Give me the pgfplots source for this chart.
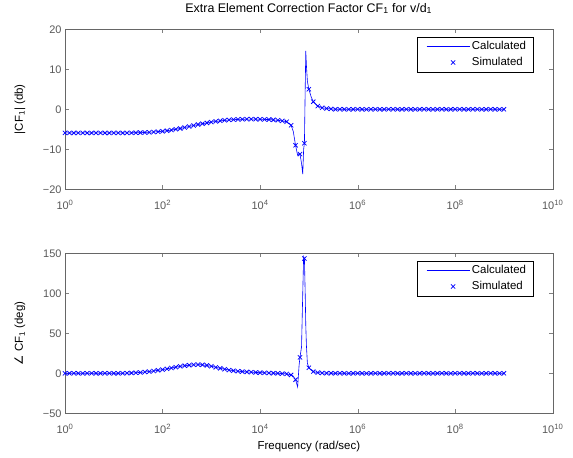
\documentclass[border=0pt]{standalone}
\usepackage{fontspec}
\setmainfont{Liberation Sans}
\newfontfamily\djv{DejaVu Sans}
\usepackage{pgfplots}
\usepackage{pgfplotstable}
\pgfplotsset{compat=1.18}
\definecolor{axgray}{gray}{0.4}
\definecolor{lblgray}{gray}{0.35}
\definecolor{mblue}{RGB}{0,0,255}
\pgfplotsset{
  longline legend/.style={legend image code/.code={%
    \draw[mark repeat=2,mark phase=2,##1] plot coordinates {(4bp,0bp) (25.5bp,0bp) (47bp,0bp)};}},
  cross legend/.style={legend image code/.code={%
    \path[draw=none] (0bp,0bp) -- (47bp,0bp);
    \draw[##1] plot coordinates {(30.5bp,0bp)};}},
}

\pgfplotstableread{
lx mag ph
0 -5.9 0
0.0909 -5.9 0
0.1818 -5.9 0
0.2727 -5.9 0
0.3636 -5.9 0
0.4545 -5.9 0
0.5455 -5.9 0
0.6364 -5.9 0
0.7273 -5.9 0
0.8182 -5.9 0
0.9091 -5.9 0
1.0 -5.9 0
1.0909 -5.9 0
1.1818 -5.9 0.1
1.2727 -5.9 0.2
1.3636 -5.88 0.4
1.4545 -5.86 0.7
1.5455 -5.83 1.1
1.6364 -5.8 1.6
1.7273 -5.75 2.2
1.8182 -5.68 2.9
1.9091 -5.6 3.7
2.0 -5.5 4.6
2.0909 -5.35 5.6
2.1818 -5.2 6.7
2.2727 -5.0 7.7
2.3636 -4.8 8.7
2.4545 -4.55 9.5
2.5455 -4.3 10.2
2.6364 -4.05 10.7
2.7273 -3.8 10.9
2.8182 -3.6 10.6
2.9091 -3.4 9.9
3.0 -3.2 8.8
3.0909 -3.03 7.5
3.1818 -2.88 6.2
3.2727 -2.75 5.0
3.3636 -2.65 4.0
3.4545 -2.58 3.2
3.5455 -2.52 2.6
3.6364 -2.48 2.1
3.7273 -2.46 1.7
3.8182 -2.45 1.4
3.9091 -2.46 1.1
4.0 -2.48 0.8
4.0909 -2.52 0.6
4.1818 -2.57 0.4
4.2727 -2.64 0.2
4.3636 -2.74 0
4.4545 -2.88 -0.3
4.5455 -3.1 -0.8
4.6364 -4.0 -2.0
4.7273 -9.0 -8.0
4.8182 -11.2 20
4.9091 -8.5 143.5
5.0 5.0 7
5.0909 1.9 2.2
5.1818 0.8 0.9
5.2727 0.4 0.4
5.3636 0.2 0.2
5.4545 0.1 0.1
5.5455 0 0
5.6364 0 0
5.7273 0 0
5.8182 0 0
5.9091 0 0
6.0 0 0
6.0909 0 0
6.1818 0 0
6.2727 0 0
6.3636 0 0
6.4545 0 0
6.5455 0 0
6.6364 0 0
6.7273 0 0
6.8182 0 0
6.9091 0 0
7.0 0 0
7.0909 0 0
7.1818 0 0
7.2727 0 0
7.3636 0 0
7.4545 0 0
7.5455 0 0
7.6364 0 0
7.7273 0 0
7.8182 0 0
7.9091 0 0
8.0 0 0
8.0909 0 0
8.1818 0 0
8.2727 0 0
8.3636 0 0
8.4545 0 0
8.5455 0 0
8.6364 0 0
8.7273 0 0
8.8182 0 0
8.9091 0 0
9.0 0 0
}\simdata

\pgfplotstableread{
lx mag ph
0 -5.9 0
1.0 -5.9 0
1.2 -5.9 0.1
1.4 -5.87 0.5
1.6 -5.81 1.4
1.8 -5.69 2.75
2.0 -5.5 4.6
2.2 -5.17 6.9
2.4 -4.7 9.0
2.6 -4.15 10.5
2.8 -3.64 10.7
3.0 -3.2 8.8
3.2 -2.86 6.0
3.4 -2.62 3.7
3.6 -2.5 2.3
3.8 -2.45 1.45
4.0 -2.48 0.8
4.2 -2.58 0.35
4.4 -2.8 -0.1
4.5455 -3.1 -0.8
4.6364 -4.0 -2.0
4.68 -5.5 -3.5
4.7273 -9.0 -8
4.77 -11.5 -17
4.80 -11.0 10
4.8182 -11.2 20
4.85 -13.5 33
4.875 -16.2 100
4.893 -10 146
4.9091 -8.5 143.5
4.925 5 100
4.937 14.6 60
4.95 11 35
4.97 7 12.5
5.0 5.0 7
5.05 3.0 3.8
5.0909 1.9 2.2
5.1818 0.8 0.9
5.2727 0.4 0.4
5.3636 0.2 0.2
5.4545 0.1 0.1
5.6 0 0
9.0 0 0
}\calcdata

\begin{document}
\begin{tikzpicture}
\path[use as bounding box] (0bp,0bp) rectangle (573bp,458bp);
\begin{axis}[
    scale only axis, width=487.7bp, height=160bp, anchor=south west,
    at={(65bp,268.7bp)},
    xmode=log, xmin=1, xmax=1e10,
    xtick={1,1e2,1e4,1e6,1e8,1e10},
    xticklabels={10\textsuperscript{0},10\textsuperscript{2},10\textsuperscript{4},10\textsuperscript{6},10\textsuperscript{8},10\textsuperscript{10}},
    ymin=-20, ymax=20, ytick={-20,-10,0,10,20}, yticklabels={−20,−10,0,10,20},
    minor tick num=0,
    axis line style={axgray},
    tick align=inside, major tick length=4bp,
    tick label style={font=\fontsize{11}{13}\selectfont, text=lblgray},
    xticklabel style={yshift=-7bp},
    legend cell align=left,
    legend style={at={(0.96,0.954)}, anchor=north east, draw=black,
      fill=white, font=\fontsize{11.5}{13.5}\selectfont,
      inner xsep=5bp, inner ysep=2.5bp, row sep=2.5bp},
  ]
\addplot[color=mblue, draw=mblue, line width=0.6bp, mark=none, longline legend] table[x expr=10^\thisrow{lx}, y=mag]{\calcdata};
\addlegendentry{Calculated}
\addplot[color=mblue, draw=mblue, only marks, mark=x, mark size=3bp, line width=0.75bp, mark options={draw=mblue, solid}, cross legend] table[x expr=10^\thisrow{lx}, y=mag]{\simdata};
\addlegendentry{Simulated}
\end{axis}
\begin{axis}[
    scale only axis, width=487.7bp, height=160bp, anchor=south west,
    at={(65bp,44.7bp)},
    xmode=log, xmin=1, xmax=1e10,
    xtick={1,1e2,1e4,1e6,1e8,1e10},
    xticklabels={10\textsuperscript{0},10\textsuperscript{2},10\textsuperscript{4},10\textsuperscript{6},10\textsuperscript{8},10\textsuperscript{10}},
    ymin=-50, ymax=150, ytick={-50,0,50,100,150}, yticklabels={−50,0,50,100,150},
    minor tick num=0,
    axis line style={axgray},
    tick align=inside, major tick length=4bp,
    tick label style={font=\fontsize{11}{13}\selectfont, text=lblgray},
    xticklabel style={yshift=-7bp},
    legend cell align=left,
    legend style={at={(0.96,0.954)}, anchor=north east, draw=black,
      fill=white, font=\fontsize{11.5}{13.5}\selectfont,
      inner xsep=5bp, inner ysep=2.5bp, row sep=2.5bp},
  ]
\addplot[color=mblue, draw=mblue, line width=0.6bp, mark=none, longline legend] table[x expr=10^\thisrow{lx}, y=ph]{\calcdata};
\addlegendentry{Calculated}
\addplot[color=mblue, draw=mblue, only marks, mark=x, mark size=3bp, line width=0.75bp, mark options={draw=mblue, solid}, cross legend] table[x expr=10^\thisrow{lx}, y=ph]{\simdata};
\addlegendentry{Simulated}
\end{axis}
\node[font=\fontsize{12.5}{15}\selectfont] at (308.7bp,449.5bp) {Extra Element Correction Factor CF\textsubscript{1} for v/d\textsubscript{1}};
\node[font=\fontsize{11.5}{14}\selectfont] at (308.9bp,11bp) {Frequency (rad/sec)};
\node[font=\fontsize{11.5}{14}\selectfont, rotate=90] at (20bp,348.7bp) {|CF\textsubscript{1}| (db)};
\node[font=\fontsize{11.5}{14}\selectfont, rotate=90] at (20bp,124.7bp) {{\djv ∠} CF\textsubscript{1} (deg)};
\end{tikzpicture}
\end{document}
